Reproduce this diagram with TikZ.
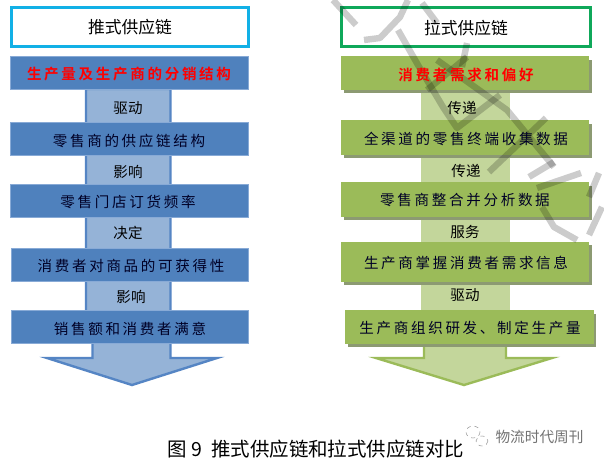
\documentclass[tikz,border=0pt]{standalone}
\usepackage{fontspec}
\setmainfont{Noto Sans CJK SC}
\newfontfamily\spaced[LetterSpace=18.5]{Noto Sans CJK SC}
\newfontfamily\spacedb[LetterSpace=18.5,BoldFont={Noto Sans CJK SC Bold}]{Noto Sans CJK SC}
\definecolor{cyanb}{HTML}{12B0E6}
\definecolor{greenb}{HTML}{0FA85A}
\definecolor{bluebox}{HTML}{4F81BD}
\definecolor{bluelite}{HTML}{95B3D7}
\definecolor{blueedge}{HTML}{5585C4}
\definecolor{grbox}{HTML}{9BBB59}
\definecolor{grlite}{HTML}{C3D69B}
\definecolor{grshadow}{HTML}{8C9A72}
\tikzset{
 x=0.75pt,y=-0.75pt,
 titlebox/.style={draw=#1,line width=2.25pt,fill=white},
 bb/.style={fill=bluebox,draw=blueedge!70!white,line width=0.5pt},
 gb/.style={fill=grbox},
 gs/.style={fill=grshadow},
 lbl/.style={font=\spaced\fontsize{10.9}{12}\selectfont,text=black!85!blue,inner sep=0pt},
 rt/.style={font=\spacedb\fontsize{10.9}{12}\selectfont\bfseries,text=red,inner sep=0pt},
 mini/.style={font=\fontsize{10.9}{12}\selectfont,text=black,inner sep=0pt},
 ttl/.style={font=\fontsize{12.6}{14}\selectfont,text=black,inner sep=0pt},
 wm/.style={draw=black,draw opacity=.2,line width=4.8pt,line cap=butt,line join=round},
}
\begin{document}
\begin{tikzpicture}
\useasboundingbox (0,0) rectangle (604,464);
\fill[white] (0,0) rectangle (604,464);
% left arrow
\draw[fill=bluelite,draw=blueedge,line width=1.8pt] (86,89)--(170.5,89)--(170.5,358)--(217,358)--(132,385)--(47,358)--(92.5,358)--(92.5,325)--(86,325)--cycle;
\draw[titlebox=cyanb] (11.5,7.5) rectangle (248.5,46.5);
\node[ttl] (lt) at (130,27) {推式供应链};
\path[bb] (10,56) rectangle (248,89);
\node[rt] (l1) at (129,74.5) {生产量及生产商的分销结构};
\node[mini] (l1a) at (128,108) {驱动};
\path[bb] (10,122) rectangle (248,155);
\node[lbl] (l2) at (129,141) {零售商的供应链结构};
\node[mini] (l2a) at (128,172) {影响};
\path[bb] (10,184) rectangle (248,217);
\node[lbl] (l3) at (128,202) {零售门店订货频率};
\node[mini] (l3a) at (128,233) {决定};
\path[bb] (11,248) rectangle (248,281);
\node[lbl] (l4) at (131,266) {消费者对商品的可获得性};
\node[mini] (l4a) at (131,297) {影响};
\path[bb] (11,310) rectangle (248,343);
\node[lbl] (l5) at (130,329) {销售额和消费者满意};
% right arrow
\fill[grlite] (421,90) rectangle (510,346);
\draw[fill=grlite,draw=grbox,line width=1.8pt] (424,346)--(424,358)--(376,358)--(464,385)--(552,358)--(506,358)--(506,346);
\draw[titlebox=greenb] (341.5,7.5) rectangle (590.5,46.5);
\path[gs] (344,60) rectangle (592,93);
\path[gb] (341,56) rectangle (589,90);
\path[gs] (344,124) rectangle (592,158);
\path[gb] (341,120) rectangle (589,155);
\path[gs] (344,186) rectangle (592,220);
\path[gb] (341,182) rectangle (589,217);
\path[gs] (344,245) rectangle (592,285);
\path[gb] (341,242) rectangle (589,282);
\path[gs] (348,314) rectangle (596,347);
\path[gb] (345,310) rectangle (594,344);
% watermark strokes
\draw[wm] (333,0)--(356,25);
\draw[wm] (364,40)--(380,38)--(400,17)--(408,0);
\draw[wm] (422,3)--(437,23);
\draw[wm] (398,30)--(418,65)--(443,107)--(457,128)--(500,95);
\draw[wm] (427,90)--(467,57);
\draw[wm] (467,43)--(462,67);
\draw[wm] (437,60)--(507,110)--(554,167);
\draw[wm] (489,172)--(546,118);
\draw[wm] (529,177)--(554,162);
\draw[wm] (537,188)--(581,173);
\draw[wm] (542,207)--(554,227)--(577,240);
\draw[wm] (589,197)--(599,173);
\draw[wm] (589,235)--(602,207);
% right labels
\node[ttl] (rt0) at (466,28) {拉式供应链};
\node[rt] (r1) at (466,75) {消费者需求和偏好};
\node[mini] (r1a) at (462,108) {传递};
\node[lbl] (r2) at (466,139) {全渠道的零售终端收集数据};
\node[mini] (r2a) at (466,171) {传递};
\node[lbl] (r3) at (465,200) {零售商整合并分析数据};
\node[mini] (r3a) at (465,232) {服务};
\node[lbl] (r4) at (466,263) {生产商掌握消费者需求信息};
\node[mini] (r4a) at (465,295) {驱动};
\node[lbl] (r5) at (470,328) {生产商组织研发、制定生产量};
% caption
\node[font=\fontsize{14.6}{16}\selectfont,inner sep=0pt] (cap) at (316,449) {图 9\ \ 推式供应链和拉式供应链对比};
\node[font=\fontsize{11}{12}\selectfont,text=black!55,inner sep=0pt] (mark) at (539.5,437) {物流时代周刊};
\draw[black!40,line width=.4pt,dashed] (473,432) ellipse (7 and 6);
\draw[black!40,line width=.4pt,dashed] (482,441) ellipse (6 and 5);
\end{tikzpicture}
\end{document}
